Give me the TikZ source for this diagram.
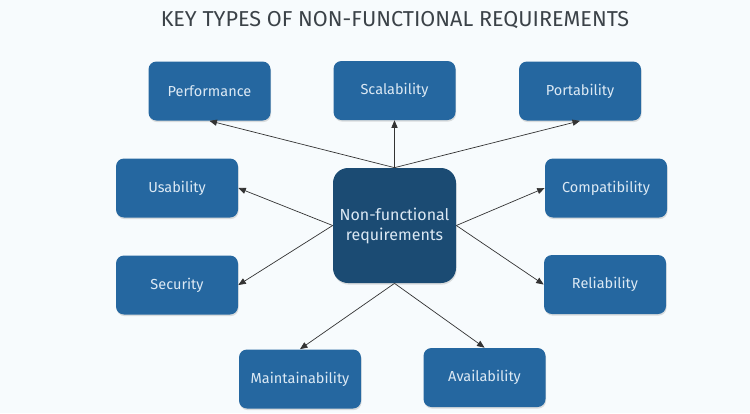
\documentclass[tikz,border=0pt]{standalone}
\usepackage{fontspec}
\setmainfont{Fira Sans}
\usepackage{tikz}
\usetikzlibrary{calc,arrows,shadows}

\definecolor{bgpale}{HTML}{F7FBFD}
\definecolor{boxblue}{HTML}{2567A0}
\definecolor{coreblue}{HTML}{1B4B73}
\definecolor{boxtext}{HTML}{DCE9F4}
\definecolor{titlegrey}{HTML}{3B4248}

\tikzset{
    nfr/.style={fill=boxblue, draw=none, rounded corners=8pt, text=boxtext,
        minimum width=122pt, minimum height=59pt, font=\fontsize{14.5}{16}\selectfont,
        drop shadow={opacity=0.25, shadow xshift=0.6pt, shadow yshift=-1.6pt}},
    core/.style={fill=coreblue, draw=none, rounded corners=15pt, text=boxtext,
        minimum width=123pt, minimum height=115pt, align=center,
        font=\fontsize{16}{20}\selectfont,
        drop shadow={opacity=0.25, shadow xshift=0.6pt, shadow yshift=-1.6pt}},
}

\begin{document}
\begin{tikzpicture}[x=1pt, y=-1pt, line width=0.7pt]
    	\fill[bgpale] (0,0) rectangle (750,413);
    	\useasboundingbox (0,0) rectangle (750,413);

    	\node[text=titlegrey, font=\fontsize{21.6}{24}\selectfont] (title) at (395,20) {KEY TYPES OF NON-FUNCTIONAL REQUIREMENTS};

    	\node[core] (nfr) at (394.5,225.5) {Non-functional\\requirements};

    	\node[nfr] (perf) at (209.5,91) {Performance};
    	\node[nfr] (scal) at (394.5,90.5) {Scalability};
    	\node[nfr] (port) at (580,91) {Portability};
    	\node[nfr] (usab) at (177,188) {Usability};
    	\node[nfr] (comp) at (606,188) {Compatibility};
    	\node[nfr] (secu) at (177,285) {Security};
    	\node[nfr] (reli) at (605,284.5) {Reliability};
    	\node[nfr] (main) at (300,379) {Maintainability};
    	\node[nfr] (avai) at (484.5,377.5) {Availability};

    	\path [-{triangle 45}, black!80]
    		(nfr.north) edge (perf.south)
    		(nfr.north) edge (scal.south)
    		(nfr.north) edge (port.south)
    		(nfr.west) edge (usab.east)
    		(nfr.west) edge (secu.east)
    		(nfr.east) edge (comp.west)
    		(nfr.east) edge (reli.west)
    		(nfr.south) edge (main.north)
    		(nfr.south) edge (avai.north)
    	;
    \end{tikzpicture}
\end{document}
